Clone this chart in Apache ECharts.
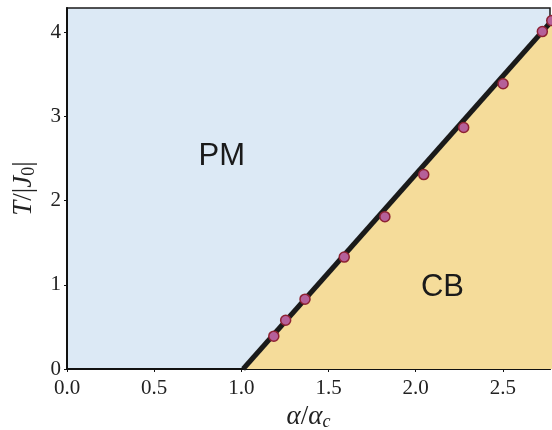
<!DOCTYPE html>
<html><head><meta charset="utf-8">
<script src="https://cdn.jsdelivr.net/npm/echarts@6/dist/echarts.min.js"></script>
<style>html,body{margin:0;padding:0;background:#fff}#c{width:552px;height:430px}</style>
</head><body><div id="c"></div>
<script>
const alphaPts = [1.186, 1.254, 1.365, 1.590, 1.823, 2.046, 2.275, 2.501, 2.726, 2.78];
const tempPts  = [0.39, 0.58, 0.83, 1.33, 1.81, 2.31, 2.87, 3.39, 4.01, 4.14];
const boundaryAlpha = [1.01, 2.85];
const boundaryT = [0, 4.30];
const xTicks = [0, 0.5, 1.0, 1.5, 2.0, 2.5];
const yTicks = [0, 1, 2, 3, 4];
const phaseLabels = ['PM', 'CB'];
const phaseAlpha = [0.888, 2.153];
const phaseT = [2.52, 0.974];

const serif = 'Liberation Serif';
const chart = echarts.init(document.getElementById('c'), null, {renderer:'canvas'});
chart.setOption({
  animation:false,
  grid:{left:67,right:2,top:8,bottom:61,containLabel:false,outerBoundsMode:'none',show:true,backgroundColor:'#dce9f5',borderColor:'#1a1a1a',borderWidth:1.5},
  xAxis:{type:'value',min:0,max:2.77,interval:0.5,
    axisLine:{show:true,onZero:false,lineStyle:{color:'#111',width:2}},
    axisTick:{show:true,length:3,customValues:xTicks,lineStyle:{color:'#111'}},
    splitLine:{show:false},
    axisLabel:{fontFamily:serif,fontSize:21,color:'#222',margin:9,customValues:xTicks,
      formatter:v=>Number(v).toFixed(1)},
    name:'{i|α}{n|/}{i|α}{sub|c}',nameLocation:'middle',nameGap:33,
    nameTextStyle:{rich:{
      i:{fontFamily:serif,fontStyle:'italic',fontSize:27,color:'#222'},
      n:{fontFamily:serif,fontSize:27,color:'#222'},
      sub:{fontFamily:serif,fontStyle:'italic',fontSize:18,color:'#222',verticalAlign:'bottom',padding:[10,0,0,0]}}}
  },
  yAxis:{type:'value',min:0,max:4.29,interval:1,
    axisLine:{show:true,lineStyle:{color:'#111',width:2}},
    axisTick:{show:true,length:3,customValues:yTicks,lineStyle:{color:'#111'}},
    splitLine:{show:false},
    axisLabel:{fontFamily:serif,fontSize:21,color:'#222',margin:6,customValues:yTicks,
      formatter:v=>String(v)},
    name:'{i|T}{n|/|}{i|J}{sub|0}{n||}',nameLocation:'middle',nameGap:29,nameRotate:90,
    nameTextStyle:{rich:{
      i:{fontFamily:serif,fontStyle:'italic',fontSize:27,color:'#222'},
      n:{fontFamily:serif,fontSize:27,color:'#222'},
      sub:{fontFamily:serif,fontSize:18,color:'#222',verticalAlign:'bottom',padding:[10,0,0,0]}}}
  },
  series:[
    {type:'line',data:boundaryAlpha.map((a,i)=>[a,boundaryT[i]]),showSymbol:false,symbol:'none',
     lineStyle:{color:'#1a1a1a',width:5},areaStyle:{color:'#f5dc9a',opacity:1,origin:'start'},z:2},
    {type:'scatter',data:alphaPts.map((a,i)=>[a,tempPts[i]]),symbolSize:10,clip:false,
     itemStyle:{color:'#b5609a',borderColor:'#8e2233',borderWidth:1.5,opacity:1},z:5},
    {type:'scatter',data:phaseLabels.map((t,i)=>[phaseAlpha[i],phaseT[i],t]),symbolSize:0,silent:true,
     itemStyle:{opacity:1},
     label:{show:true,position:'inside',formatter:p=>p.data[2],fontFamily:'Liberation Sans',fontSize:31,color:'#1a1a1a'},z:6}
  ]
});
</script></body></html>
